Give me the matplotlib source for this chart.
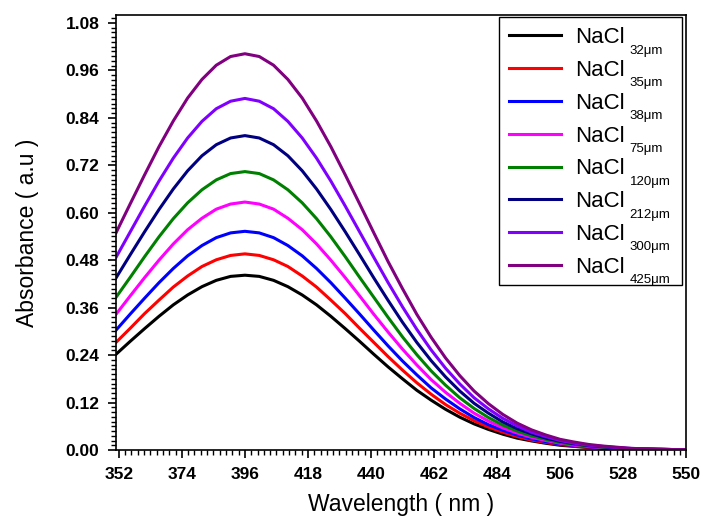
import matplotlib
matplotlib.use('Agg')
import matplotlib.pyplot as plt
from matplotlib.ticker import MultipleLocator, AutoMinorLocator
from matplotlib.transforms import IdentityTransform
from matplotlib.patches import Rectangle

plt.rcParams['font.family'] = ['Liberation Sans', 'DejaVu Sans']

# wavelength grid (nm)
wavelength = [351, 356, 361, 366, 371, 376, 381, 386, 391, 396,
              401, 406, 411, 416, 421, 426, 431, 436, 441, 446,
              451, 456, 461, 466, 471, 476, 481, 486, 491, 496,
              501, 506, 511, 516, 521, 526, 531, 536, 541, 546, 550]

# absorbance
abs_32 = [0.242, 0.275, 0.307, 0.338, 0.367, 0.392, 0.413, 0.429, 0.439, 0.442,
          0.439, 0.429, 0.413, 0.392, 0.367, 0.338, 0.307, 0.275, 0.242, 0.210,
          0.180, 0.151, 0.126, 0.103, 0.083, 0.066, 0.052, 0.040, 0.030, 0.023,
          0.017, 0.012, 0.009, 0.006, 0.004, 0.003, 0.002, 0.001, 0.001, 0.001, 0.000]
abs_35 = [0.272, 0.308, 0.345, 0.379, 0.412, 0.440, 0.464, 0.481, 0.492, 0.496,
          0.492, 0.481, 0.464, 0.440, 0.412, 0.379, 0.345, 0.308, 0.272, 0.236,
          0.202, 0.170, 0.141, 0.115, 0.093, 0.074, 0.058, 0.045, 0.034, 0.025,
          0.019, 0.014, 0.010, 0.007, 0.005, 0.003, 0.002, 0.001, 0.001, 0.001, 0.000]
abs_38 = [0.303, 0.344, 0.384, 0.423, 0.459, 0.491, 0.517, 0.537, 0.549, 0.553,
          0.549, 0.537, 0.517, 0.491, 0.459, 0.423, 0.384, 0.344, 0.303, 0.263,
          0.225, 0.190, 0.157, 0.129, 0.104, 0.082, 0.064, 0.050, 0.038, 0.028,
          0.021, 0.015, 0.011, 0.008, 0.005, 0.004, 0.002, 0.002, 0.001, 0.001, 0.000]
abs_75 = [0.343, 0.390, 0.436, 0.480, 0.521, 0.557, 0.586, 0.609, 0.622, 0.627,
          0.622, 0.609, 0.586, 0.557, 0.521, 0.480, 0.436, 0.390, 0.343, 0.298,
          0.255, 0.215, 0.178, 0.146, 0.118, 0.093, 0.073, 0.056, 0.043, 0.032,
          0.024, 0.017, 0.012, 0.009, 0.006, 0.004, 0.003, 0.002, 0.001, 0.001, 0.001]
abs_120 = [0.386, 0.437, 0.489, 0.539, 0.585, 0.625, 0.658, 0.683, 0.699, 0.704,
           0.699, 0.683, 0.658, 0.625, 0.585, 0.539, 0.489, 0.437, 0.386, 0.335,
           0.286, 0.241, 0.200, 0.164, 0.132, 0.105, 0.082, 0.063, 0.048, 0.036,
           0.027, 0.019, 0.014, 0.010, 0.007, 0.005, 0.003, 0.002, 0.001, 0.001, 0.001]
abs_212 = [0.435, 0.494, 0.552, 0.608, 0.660, 0.706, 0.744, 0.772, 0.789, 0.795,
           0.789, 0.772, 0.744, 0.706, 0.660, 0.608, 0.552, 0.494, 0.435, 0.378,
           0.323, 0.272, 0.226, 0.185, 0.149, 0.118, 0.093, 0.071, 0.054, 0.041,
           0.030, 0.022, 0.016, 0.011, 0.008, 0.005, 0.003, 0.002, 0.002, 0.001, 0.001]
abs_300 = [0.487, 0.552, 0.617, 0.680, 0.738, 0.789, 0.831, 0.863, 0.882, 0.889,
           0.882, 0.863, 0.831, 0.789, 0.738, 0.680, 0.617, 0.552, 0.487, 0.423,
           0.362, 0.305, 0.253, 0.207, 0.167, 0.132, 0.104, 0.080, 0.061, 0.045,
           0.034, 0.024, 0.017, 0.012, 0.009, 0.006, 0.004, 0.003, 0.002, 0.001, 0.001]
abs_425 = [0.549, 0.623, 0.696, 0.767, 0.832, 0.890, 0.937, 0.973, 0.995, 1.002,
           0.995, 0.973, 0.937, 0.890, 0.832, 0.767, 0.696, 0.623, 0.549, 0.476,
           0.408, 0.343, 0.285, 0.233, 0.188, 0.149, 0.117, 0.090, 0.068, 0.051,
           0.038, 0.027, 0.020, 0.014, 0.010, 0.007, 0.004, 0.003, 0.002, 0.001, 0.001]

sizes = ['32', '35', '38', '75', '120', '212', '300', '425']
series = [abs_32, abs_35, abs_38, abs_75, abs_120, abs_212, abs_300, abs_425]
colors = ['#000000', '#ff0000', '#0000ff', '#ff00ff', '#008000', '#000080', '#8000ff', '#800080']

fig = plt.figure(figsize=(7.03, 5.17), dpi=100)
ax = fig.add_axes([0.165, 0.1296, 0.811, 0.8414])

for size, y, c in zip(sizes, series, colors):
    ax.plot(wavelength, y, color=c, linewidth=2.2, label='NaCl')

ax.set_xlim(351, 550)
ax.set_ylim(0, 1.1)
ax.set_xticks([352, 374, 396, 418, 440, 462, 484, 506, 528, 550])
ax.xaxis.set_minor_locator(MultipleLocator(2.2))
ax.yaxis.set_major_locator(MultipleLocator(0.12))
ax.yaxis.set_minor_locator(AutoMinorLocator(10))
ax.yaxis.set_major_formatter(plt.FormatStrFormatter('%.2f'))

ax.tick_params(which='major', direction='out', length=6, width=1.2, labelsize=12.5, pad=6)
ax.tick_params(which='minor', direction='out', length=3.5, width=1.0)
for lbl in ax.get_xticklabels() + ax.get_yticklabels():
    lbl.set_fontweight('bold')
for sp in ax.spines.values():
    sp.set_linewidth(1.2)

ax.set_xlabel('Wavelength ( nm )', fontsize=16.5, labelpad=8)
ax.set_ylabel('Absorbance ( a.u )', fontsize=16.5, labelpad=19)

# legend without frame; frame drawn by hand so it also holds the subscripts
leg_left, leg_right, leg_top = 0.672, 0.993, 0.995
leg = ax.legend(loc='upper left', bbox_to_anchor=(leg_left, leg_top), borderaxespad=0,
                fontsize=16, handlelength=2.34, labelspacing=0.53, frameon=False,
                borderpad=0.45, handletextpad=0.63)

fig.canvas.draw()
renderer = fig.canvas.get_renderer()

# subscripts (particle size) set just below the baseline of each "NaCl"
for t, size in zip(leg.get_texts(), sizes):
    bb = t.get_window_extent(renderer)
    prop = t.get_fontproperties()
    _, _, d_lp = renderer.get_text_width_height_descent('lp', prop, ismath=False)
    baseline = bb.y0 + d_lp
    sub = fig.text(bb.x1 + 5, baseline - 1.5, size + 'μm', fontsize=9.5,
                   ha='left', va='top', transform=IdentityTransform())
    sub.set_zorder(6)

leg_bb = leg.get_window_extent(renderer).transformed(ax.transAxes.inverted())
frame_bottom = leg_bb.y0 + 0.005
frame = Rectangle((leg_left, frame_bottom), leg_right - leg_left,
                  leg_top - frame_bottom, transform=ax.transAxes,
                  facecolor='white', edgecolor='black', linewidth=1.0,
                  zorder=4.5, clip_on=False)
ax.add_patch(frame)

fig.savefig('out.png', dpi=100)
